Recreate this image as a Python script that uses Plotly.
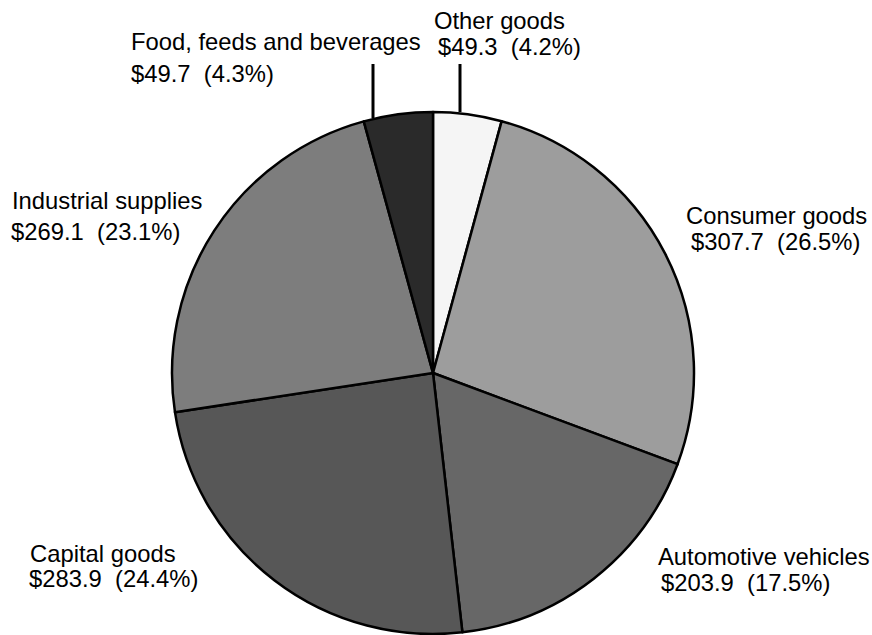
import plotly.graph_objects as go

# Data (billions of dollars), clockwise from 12 o'clock
categories = ["Other goods", "Consumer goods", "Automotive vehicles",
              "Capital goods", "Industrial supplies", "Food, feeds and beverages"]
values = [49.3, 307.7, 203.9, 283.9, 269.1, 49.7]
percents = ["4.2%", "26.5%", "17.5%", "24.4%", "23.1%", "4.3%"]
colors = ["#f5f5f5", "#9d9d9d", "#676767", "#575757", "#7d7d7d", "#2a2a2a"]

W, H = 872, 635
cx, cy, r = 433, 373, 261

fig = go.Figure(go.Pie(
    labels=categories, values=values, sort=False, direction="clockwise",
    rotation=0, textinfo="none", hoverinfo="none", showlegend=False,
    marker=dict(colors=colors, line=dict(color="black", width=2.5)),
    domain=dict(x=[(cx - r) / W, (cx + r) / W], y=[(H - (cy + r)) / H, (H - (cy - r)) / H]),
))

# label placement (pixel positions of each label's two lines: x-left, y-center)
label_pos = {
    "Other goods": ((432, 21), (436, 46)),
    "Consumer goods": ((684, 215), (689, 241)),
    "Automotive vehicles": ((656, 556), (659, 582)),
    "Capital goods": ((28, 553), (27, 578)),
    "Industrial supplies": ((10, 200), (9, 231)),
    "Food, feeds and beverages": ((129, 42), (129, 73)),
}

ann = []
for cat, val, pct in zip(categories, values, percents):
    (x1, y1), (x2, y2) = label_pos[cat]
    for (x, y), t in (((x1, y1), cat), ((x2, y2), f"${val:.1f}  ({pct})")):
        ann.append(dict(x=x / W, y=1 - y / H, xref="paper", yref="paper",
                        text=t, showarrow=False, xanchor="left", yanchor="middle",
                        font=dict(family="Liberation Sans, Arial", size=23.8, color="black")))

shapes = []
for lx, y0, y1 in ((373, 64, 118), (460, 64, 112)):
    shapes.append(dict(type="line", xref="paper", yref="paper",
                       x0=lx / W, x1=lx / W, y0=1 - y0 / H, y1=1 - y1 / H,
                       line=dict(color="black", width=3)))

fig.update_layout(width=W, height=H, margin=dict(l=0, r=0, t=0, b=0),
                  paper_bgcolor="white", plot_bgcolor="white",
                  annotations=ann, shapes=shapes)
fig.write_html("out.html")
